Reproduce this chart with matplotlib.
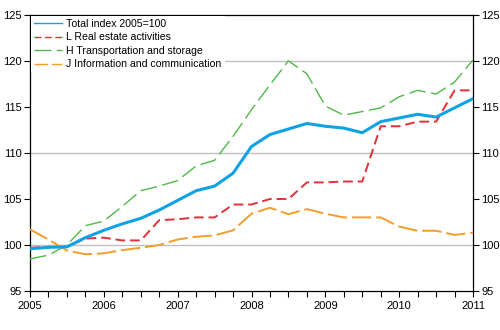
import matplotlib
matplotlib.use("Agg")
import matplotlib.pyplot as plt
import numpy as np

# Quarterly index values, 2005 Q1 .. 2011 Q1
quarters = np.arange(2005, 2011.01, 0.25)

total = [99.6, 99.75, 99.8, 100.8, 101.6, 102.3, 102.9, 103.8, 104.85, 105.9,
         106.4, 107.8, 110.7, 112.0, 112.6, 113.2, 112.9, 112.7, 112.2, 113.4,
         113.8, 114.2, 113.9, 114.9, 115.9]
real_estate = [99.7, 99.8, 99.8, 100.7, 100.8, 100.5, 100.5, 102.7, 102.8, 103.0,
               103.0, 104.4, 104.4, 105.0, 105.0, 106.8, 106.8, 106.9, 106.9, 112.9,
               112.9, 113.4, 113.4, 116.8, 116.8]
transport = [98.5, 98.9, 100.0, 102.1, 102.6, 104.2, 105.9, 106.4, 107.0, 108.6,
             109.2, 111.8, 114.7, 117.4, 120.0, 118.6, 115.1, 114.1, 114.5, 114.9,
             116.1, 116.8, 116.4, 117.7, 120.1]
info_comm = [101.7, 100.6, 99.4, 99.0, 99.1, 99.45, 99.7, 100.0, 100.6, 100.9,
             101.05, 101.6, 103.4, 104.05, 103.35, 103.9, 103.4, 103.0, 103.0, 103.0,
             102.0, 101.55, 101.55, 101.1, 101.35]

labels = ["Total index 2005=100", "L Real estate activities",
          "H Transportation and storage", "J Information and communication"]
years = [2005, 2006, 2007, 2008, 2009, 2010, 2011]
yticks = [95, 100, 105, 110, 115, 120, 125]

plt.rcParams["font.family"] = ["Liberation Sans", "DejaVu Sans"]

fig = plt.figure(figsize=(5, 3.3), dpi=100)
ax = fig.add_axes([0.06, 0.118, 0.886, 0.837])

ax.plot(quarters, total, color="#0ea2e6", lw=2.2, label=labels[0], zorder=5)
ax.plot(quarters, real_estate, color="#e0303a", lw=1.4, ls=(0, (5, 2.5)), label=labels[1], zorder=4)
ax.plot(quarters, transport, color="#50b848", lw=1.0, ls=(0, (12, 4)), label=labels[2], zorder=3)
ax.plot(quarters, info_comm, color="#f59c2a", lw=1.4, ls=(0, (10, 2.5)), label=labels[3], zorder=3)

# horizontal grid every 10 points
for g in [100, 110, 120]:
    ax.axhline(g, color="#c0c0c0", lw=1.0, zorder=1)

ax.set_xlim(2005, 2011)
ax.set_ylim(95, 125)
ax.set_xticks(years)
ax.set_xticklabels([str(y) for y in years])
ax.set_xticks(quarters, minor=True)
ax.set_yticks(yticks)
ax.tick_params(axis="x", which="both", length=4, width=0.8, direction="out", labelsize=8, pad=3)
ax.tick_params(axis="y", which="both", length=4, width=0.8, direction="out", labelsize=8,
               left=True, right=True, labelleft=True, labelright=True, pad=2)
for s in ax.spines.values():
    s.set_linewidth(0.9)

leg = ax.legend(loc="upper left", bbox_to_anchor=(0.0, 1.0), fontsize=7.6,
                handlelength=2.6, handletextpad=0.45, labelspacing=0.32,
                borderpad=0.3, borderaxespad=0.1, frameon=True, fancybox=False)
leg.get_frame().set_edgecolor("none")
leg.get_frame().set_facecolor("white")
leg.get_frame().set_alpha(1.0)
leg.set_zorder(10)
for ln in leg.get_lines():
    ln.set_linewidth(1.0)

fig.savefig("out.png", dpi=100)
